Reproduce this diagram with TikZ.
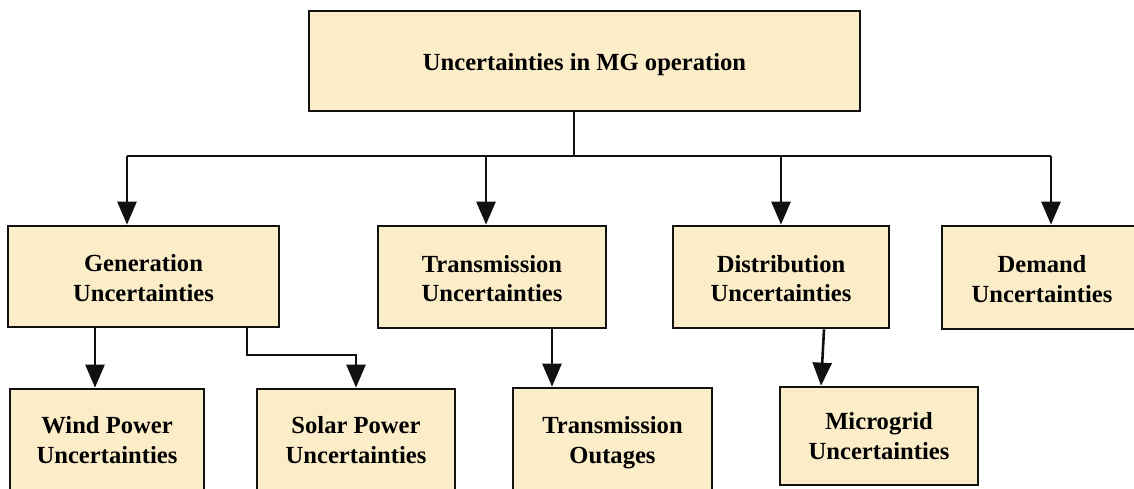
\documentclass[tikz,border=0pt]{standalone}
\usepackage{fontspec}
\setmainfont{Liberation Serif}
\usetikzlibrary{arrows.meta}
\definecolor{boxfill}{RGB}{252,237,201}
\definecolor{ink}{RGB}{17,17,17}
% one or two centred lines, set a little low in their box
\newcommand{\oneline}[1]{\raisebox{-4pt}[\height][\depth]{#1}}
\newcommand{\twoline}[3][4pt]{\raisebox{-#1}[\height][\depth]{\begin{tabular}{@{}c@{}}#2\\#3\end{tabular}}}
\begin{document}
\begin{tikzpicture}[x=1pt,y=-1pt,
  box/.style={draw=ink, line width=2.7pt, fill=boxfill,
    inner sep=0pt, font=\bfseries\fontsize{24.6}{29.5}\selectfont},
  link/.style={draw=ink, line width=2.6pt},
  arrow/.style={link, -{Triangle[length=23pt,width=19pt]}}]
\clip (0,0) rectangle (1134,489);

% root
\node[box, minimum width=551pt, minimum height=100pt] (top) at (584.5,61) {\oneline{Uncertainties in MG operation}};

% second level
\node[box, minimum width=271pt, minimum height=101pt] (gen) at (143.5,276.5) {\twoline{Generation}{Uncertainties}};
\node[box, minimum width=228pt, minimum height=102pt] (tra) at (492,277) {\twoline{Transmission}{Uncertainties}};
\node[box, minimum width=216pt, minimum height=102pt] (dis) at (781,277) {\twoline{Distribution}{Uncertainties}};
\node[box, minimum width=200pt, minimum height=103pt] (dem) at (1042,277.5) {\twoline{Demand}{Uncertainties}};

% third level
\node[box, minimum width=194pt, minimum height=104pt] (wind) at (107,441) {\twoline[1.5pt]{Wind Power}{Uncertainties}};
\node[box, minimum width=198pt, minimum height=104pt] (sol) at (356,441) {\twoline[1.5pt]{Solar Power}{Uncertainties}};
\node[box, minimum width=199pt, minimum height=104pt] (out) at (612.5,440) {\twoline[2.5pt]{Transmission}{Outages}};
\node[box, minimum width=198pt, minimum height=98pt] (mic) at (879,436) {\twoline[2.5pt]{Microgrid}{Uncertainties}};

% branching points
\coordinate (hub) at (574,156);
\coordinate (hgen) at (127,156);
\coordinate (htra) at (486,156);
\coordinate (hdis) at (781,156);
\coordinate (hdem) at (1051,156);
\coordinate (wx) at (95,0);
\coordinate (sbend) at (247,355);
\coordinate (ox) at (552,0);
\coordinate (ma) at (824,0);
\coordinate (mb) at (821,0);

% root to second level
\draw[link] (top.south -| hub) -- (hub);
\draw[link] (hgen) -- (hdem);
\draw[arrow] (hgen) -- (gen.north -| hgen);
\draw[arrow] (htra) -- (tra.north -| htra);
\draw[arrow] (hdis) -- (dis.north -| hdis);
\draw[arrow] (hdem) -- (dem.north -| hdem);

% second to third level
\draw[arrow] (gen.south -| wx) -- (wind.north -| wx);
\draw[arrow] (gen.south -| sbend) -- (sbend) -| (sol.north);
\draw[arrow] (tra.south -| ox) -- (out.north -| ox);
\draw[arrow] (dis.south -| ma) -- (mic.north -| mb);
\end{tikzpicture}
\end{document}
